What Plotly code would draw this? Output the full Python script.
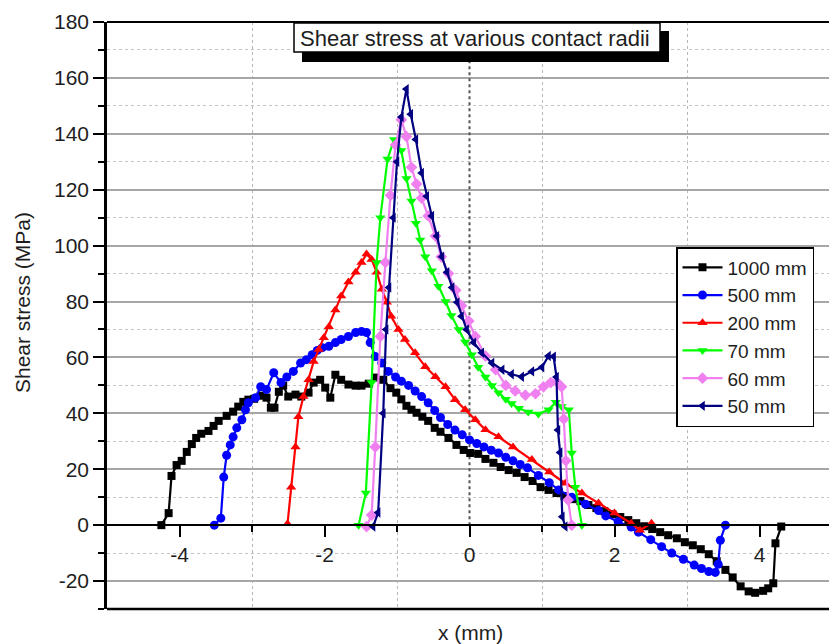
import plotly.graph_objects as go

# ---------------- data ----------------
names = ["1000 mm", "500 mm", "200 mm", "70 mm", "60 mm", "50 mm"]

x_1000 = [-4.25, -4.15, -4.11, -4.04, -3.97, -3.90, -3.83, -3.77, -3.70, -3.60, -3.53, -3.46, -3.35, -3.26,
          -3.19, -3.12, -3.05, -2.97, -2.88, -2.80, -2.74, -2.69, -2.63, -2.57, -2.50, -2.40, -2.32, -2.22,
          -2.15, -2.06, -1.99, -1.92, -1.85, -1.77, -1.67, -1.57, -1.49, -1.39, -1.30, -1.19, -1.09, -1.01,
          -0.94, -0.87, -0.80, -0.73, -0.65, -0.57, -0.48, -0.40, -0.29, -0.18, -0.08, 0.01, 0.12, 0.22,
          0.33, 0.43, 0.54, 0.65, 0.76, 0.87, 0.98, 1.09, 1.20, 1.31, 1.42, 1.53, 1.64, 1.75, 1.86, 1.97,
          2.08, 2.19, 2.30, 2.41, 2.52, 2.63, 2.74, 2.86, 2.97, 3.08, 3.19, 3.30, 3.41, 3.53, 3.63, 3.74,
          3.85, 3.94, 4.05, 4.12, 4.19, 4.22, 4.30]
y_1000 = [0, 4.3, 17.6, 21.5, 23, 26.2, 29, 31.2, 32.7, 33.7, 35.5, 37.3, 39.1, 40.6,
          42.4, 44.1, 44.9, 45.2, 46.3, 45.6, 42, 42, 47.7, 49.9, 46, 46.7, 46, 47.4,
          51, 52, 49.2, 45.6, 53.8, 52, 50.3, 49.9, 49.9, 50.6, 52.8, 52, 49, 47.4,
          45, 42.7, 41.3, 40.2, 38.8, 37.3, 34.8, 33.4, 31.2, 28.7, 26.9, 25.8, 25.5, 23.7,
          22.3, 20.8, 19.7, 18.7, 17.2, 15.8, 13.6, 12.6, 11.5, 10.4, 9.3, 8.6, 7.2, 6.1, 5.0, 3.9,
          2.9, 1.8, 0.7, -0.4, -1.4, -2.5, -3.6, -4.7, -6.1, -7.2, -8.6, -10.4, -12.9, -16, -18.7, -21.9,
          -23.7, -24.2, -23.5, -22.6, -20.8, -6.5, -0.5]

x_500 = [-3.52, -3.43, -3.39, -3.35, -3.30, -3.26, -3.21, -3.14, -3.09, -3.05, -2.95, -2.88, -2.80, -2.70,
         -2.60, -2.52, -2.43, -2.33, -2.25, -2.17, -2.10, -2.03, -1.94, -1.85, -1.77, -1.67, -1.57, -1.49,
         -1.42, -1.37, -1.30, -1.21, -1.12, -1.02, -0.94, -0.84, -0.75, -0.66, -0.57, -0.48, -0.40, -0.30,
         -0.20, -0.10, 0.0, 0.1, 0.2, 0.3, 0.4, 0.5, 0.6, 0.7, 0.8, 0.95, 1.1, 1.23, 1.41, 1.6, 1.78, 1.88,
         2.05, 2.23, 2.33, 2.5, 2.65, 2.79, 2.95, 3.1, 3.2, 3.3, 3.39, 3.43, 3.46, 3.53]
y_500 = [0, 2.5, 17.2, 25, 28.7, 31.6, 34.8, 37.7, 41.3, 43.8, 45.6, 49.5, 48.5, 54.5,
         51, 53, 55, 58, 59.2, 61, 62.5, 63.5, 64, 65.3, 66.4, 67.5, 68.9, 69.3,
         68.9, 65.3, 60.3, 58, 55, 53, 51.5, 50, 48, 46, 43.8, 41, 38.5, 36,
         34, 32.3, 30.5, 29.2, 28, 26.8, 25.8, 24.3, 23, 21.7, 20.5, 17.8, 15.2, 12.6, 10, 7.5, 5.2, 3.3,
         1.2, -0.7, -2.5, -5.2, -7.7, -10, -12.2, -14.3, -15.5, -16.6, -16.9, -14, -5.4, 0]

x_200 = [-2.51, -2.46, -2.40, -2.36, -2.29, -2.22, -2.15, -2.08, -2.01, -1.94, -1.85, -1.77, -1.67, -1.57,
         -1.49, -1.42, -1.35, -1.28, -1.21, -1.14, -1.08, -0.98, -0.89, -0.75, -0.61, -0.47, -0.33, -0.2,
         -0.06, 0.08, 0.22, 0.4, 0.6, 0.86, 1.1, 1.32, 1.55, 1.78, 2.0, 2.23, 2.35, 2.51]
y_200 = [0.5, 13.6, 28, 38.8, 46, 52, 58.5, 62.8, 67, 71, 77, 82, 87, 90.5,
         94, 97, 95, 90.5, 84.4, 79.7, 74.7, 70, 66.4, 61.7, 56.7, 53.1, 49.5, 44.9,
         41.3, 37.7, 34.1, 31.6, 28, 23.5, 19, 15, 11.5, 7.9, 4.3, 0.7, -1.8, 0.7]

x_70 = [-1.53, -1.43, -1.35, -1.28, -1.23, -1.13, -1.04, -0.94, -0.87, -0.80, -0.74, -0.68, -0.61, -0.52,
        -0.43, -0.33, -0.25, -0.15, -0.06, 0.03, 0.12, 0.22, 0.31, 0.4, 0.5, 0.58, 0.68, 0.81, 0.95,
        1.09, 1.19, 1.27, 1.37, 1.41, 1.46, 1.55]
y_70 = [0, 11.5, 51, 94, 110, 131, 138, 134, 124, 116, 108, 102, 96, 91,
        85.5, 80, 75, 70, 65.5, 61, 56.5, 53, 50, 47.4, 45, 43.5, 41.8, 40.5, 39.8,
        41.3, 44, 42.4, 41.3, 25.8, 13.6, 0]

x_60 = [-1.42, -1.35, -1.30, -1.23, -1.16, -1.09, -1.02, -0.94, -0.87, -0.80, -0.73, -0.66, -0.57, -0.47,
        -0.39, -0.29, -0.19, -0.11, -0.01, 0.08, 0.22, 0.36, 0.5, 0.63, 0.77, 0.91, 1.02, 1.12, 1.2,
        1.27, 1.3, 1.33, 1.36, 1.41]
y_60 = [-0.5, 3.6, 28, 67.5, 94, 118, 136, 145, 139, 128, 122, 117, 110.6, 103.4,
        96, 90, 84, 78.5, 73, 67.5, 60.5, 55.6, 50, 48, 46.5, 47, 49.5, 51, 51.3,
        49.5, 38, 23, 9, 0]

x_50 = [-1.33, -1.26, -1.19, -1.15, -1.11, -1.05, -1.0, -0.94, -0.87, -0.81, -0.74, -0.66, -0.59, -0.52,
        -0.45, -0.38, -0.31, -0.24, -0.17, -0.11, -0.04, 0.06, 0.17, 0.31, 0.45, 0.58, 0.72, 0.86, 1.0,
        1.09, 1.16, 1.2, 1.22, 1.25, 1.28, 1.32]
y_50 = [-0.5, 4.5, 40, 70, 85, 110, 130, 146, 156, 147, 138, 126, 117.7, 110.6,
        103.4, 96, 90.5, 85, 79.7, 74.7, 70, 65.3, 61.7, 58, 55.6, 54, 53.1, 55, 56.5,
        60.5, 60.3, 53, 34, 26, 3, -0.5]

y_tickvals = [-20, 0, 20, 40, 60, 80, 100, 120, 140, 160, 180]
y_ticktext = ["-20", "0", "20", "40", "60", "80", "100", "120", "140", "160", "180"]
x_tickvals = [-4, -2, 0, 2, 4]
x_ticktext = ["-4", "-2", "0", "2", "4"]

title_text = "Shear stress at various contact radii"

# ---------------- figure ----------------
FONT = "Arial, Liberation Sans, sans-serif"
TXT = "#1e1e1e"

series = [
    (x_1000, y_1000, "#000000", "square", 8),
    (x_500, y_500, "#0000ff", "circle", 9),
    (x_200, y_200, "#ff0000", "triangle-up", 9),
    (x_70, y_70, "#00ff00", "triangle-down", 9),
    (x_60, y_60, "#f080f0", "diamond", 9),
    (x_50, y_50, "#000080", "triangle-left", 9),
]

fig = go.Figure()
for name, (xs, ys, col, sym, sz) in zip(names, series):
    fig.add_trace(go.Scatter(
        x=xs, y=ys, name=name, mode="lines+markers",
        line=dict(color=col, width=2.2),
        marker=dict(color=col, symbol=sym, size=sz, line=dict(width=0)),
    ))

# plot area geometry: left 107, top 22, bottom 609, right edge cropped at 829
W, H = 829, 644
L, T, B = 107, 22, 35
def px(xp):
    return (xp - L) / (W - L)
def py(yp):
    return (H - B - yp) / (H - B - T)

shapes = [
    # dotted line at x = 0
    dict(type="line", xref="x", yref="y", x0=0, x1=0, y0=0, y1=166,
         line=dict(color="#555555", width=2, dash="dot"), layer="between"),
    # frame top and bottom
    dict(type="line", xref="paper", yref="paper", x0=0, x1=1.01, y0=1, y1=1,
         line=dict(color="black", width=2)),
    dict(type="line", xref="paper", yref="paper", x0=0, x1=1.01, y0=0, y1=0,
         line=dict(color="black", width=2.5)),
    # title box shadow
    dict(type="rect", xref="paper", yref="paper", x0=px(302), x1=px(669), y0=py(62), y1=py(31),
         fillcolor="black", line=dict(width=0)),
    # title box
    dict(type="rect", xref="paper", yref="paper", x0=px(294), x1=px(660), y0=py(52), y1=py(23),
         fillcolor="white", line=dict(color="black", width=1.5)),
]

annotations = [
    dict(text=title_text, xref="paper", yref="paper", x=px(475), y=py(38), showarrow=False,
         xanchor="center", yanchor="middle", font=dict(family=FONT, size=22, color=TXT)),
    dict(text="Shear stress (MPa)", xref="paper", yref="paper", x=px(22), y=py(303), showarrow=False,
         textangle=-90, xanchor="center", yanchor="middle", font=dict(family=FONT, size=21, color=TXT)),
    dict(text="x (mm)", xref="paper", yref="paper", x=px(470), y=py(632), showarrow=False,
         xanchor="center", yanchor="middle", font=dict(family=FONT, size=21, color=TXT)),
]

fig.update_layout(
    width=W, height=H,
    margin=dict(l=L, r=0, t=T, b=B),
    paper_bgcolor="white", plot_bgcolor="white",
    font=dict(family=FONT, size=21, color=TXT),
    showlegend=True,
    legend=dict(x=px(676), y=py(247), xanchor="left", yanchor="top",
                bgcolor="white", bordercolor="black", borderwidth=1.5,
                font=dict(family=FONT, size=19, color=TXT), tracegroupgap=0, itemwidth=40),
    shapes=shapes,
    annotations=annotations,
    xaxis=dict(
        range=[-5, -5 + (W - L) / 72.5], anchor="free", position=30 / 210,
        tickmode="array", tickvals=x_tickvals, ticktext=x_ticktext,
        ticks="outside", ticklen=11, tickwidth=2, tickcolor="black",
        showline=True, linecolor="black", linewidth=2,
        showgrid=False, zeroline=False,
        tickfont=dict(family=FONT, size=21, color=TXT),
        minor=dict(tickvals=[-3, -1, 1, 3], ticks="outside", ticklen=6, tickwidth=1.5,
                   tickcolor="black", showgrid=True, gridcolor="#b8b8b8", griddash="dot", gridwidth=1.2),
    ),
    yaxis=dict(
        range=[-30, 180], domain=[0, 1],
        tickmode="array", tickvals=y_tickvals, ticktext=y_ticktext,
        ticks="outside", ticklen=11, tickwidth=2, tickcolor="black",
        showline=True, linecolor="black", linewidth=2.5,
        showgrid=True, gridcolor="#a6a6a6", gridwidth=1.6, zeroline=False,
        tickfont=dict(family=FONT, size=21, color=TXT),
        minor=dict(tickvals=[-30, -10, 10, 30, 50, 70, 90, 110, 130, 150, 170], ticks="outside",
                   ticklen=6, tickwidth=2, tickcolor="black",
                   showgrid=True, gridcolor="#c4c4c4", griddash="dot", gridwidth=1.2),
    ),
)

fig.write_html("out.html")
